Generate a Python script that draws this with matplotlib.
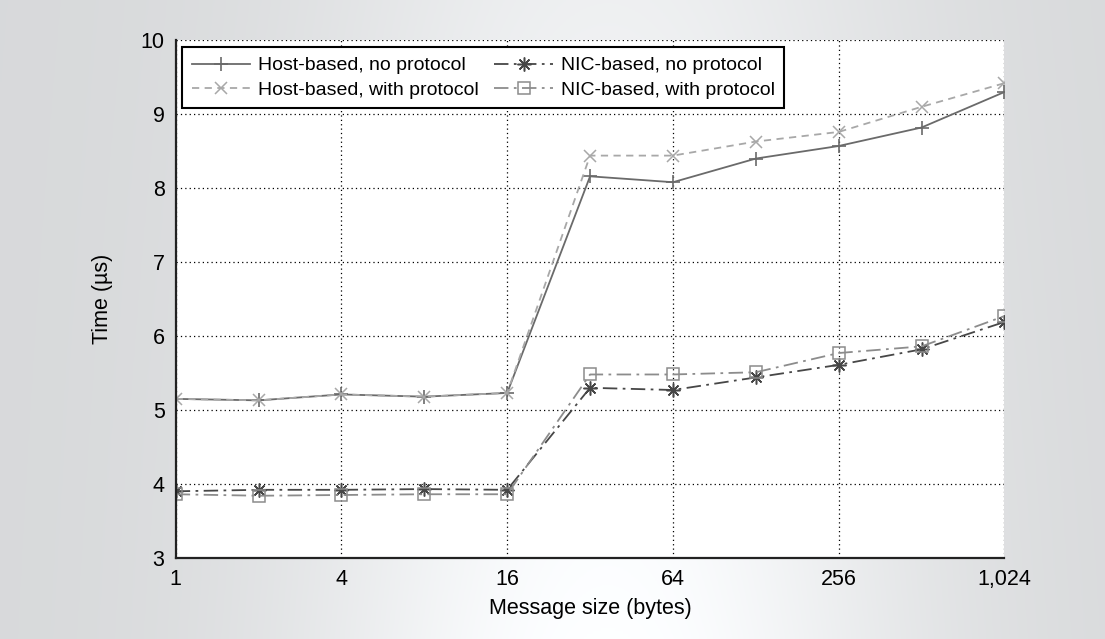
import numpy as np
import matplotlib
matplotlib.use("Agg")
import matplotlib.pyplot as plt

# ─────────────────────────────────────────────
#   DATA
# ─────────────────────────────────────────────
msg_sizes = [1, 2, 4, 8, 16, 32, 64, 128, 256, 512, 1024]

host_no_proto   = [5.15, 5.13, 5.21, 5.18, 5.23, 8.16, 8.08, 8.40, 8.57, 8.82, 9.30]
host_with_proto = [5.15, 5.13, 5.21, 5.18, 5.23, 8.44, 8.44, 8.63, 8.76, 9.10, 9.42]
nic_no_proto    = [3.90, 3.92, 3.92, 3.93, 3.92, 5.30, 5.27, 5.44, 5.61, 5.82, 6.19]
nic_with_proto  = [3.86, 3.84, 3.85, 3.86, 3.86, 5.48, 5.48, 5.51, 5.77, 5.86, 6.27]

x_ticks  = [1, 4, 16, 64, 256, 1024]
x_labels = ["1", "4", "16", "64", "256", "1,024"]
y_ticks  = [3, 4, 5, 6, 7, 8, 9, 10]

plt.rcParams["font.family"] = ["Liberation Sans", "DejaVu Sans"]

fig = plt.figure(figsize=(11.05, 6.39), dpi=100)

# ── gradient backdrop ──
bg = fig.add_axes([0, 0, 1, 1], zorder=-10)
xx = np.linspace(0, 1, 400)
yy = np.linspace(0, 1, 200)
X, Y = np.meshgrid(xx, yy)
shade = 0.845 + 0.15 * np.exp(-((X - 0.55) / 0.28) ** 2) * (0.6 + 0.4 * Y)
img = np.dstack([shade, shade + 0.006, shade + 0.012])
bg.imshow(np.clip(img, 0, 1), aspect="auto", extent=[0, 1, 0, 1])
bg.axis("off")

ax = fig.add_axes([0.159, 0.127, 0.75, 0.81])
ax.set_facecolor("white")

ax.plot(msg_sizes, host_no_proto, color="#6a6a6a", lw=1.3, ls="-",
        marker="+", ms=10, mew=1.2, label="Host-based, no protocol")
ax.plot(msg_sizes, host_with_proto, color="#a8a8a8", lw=1.3, ls=(0, (4, 3)),
        marker="x", ms=9, mew=1.1, label="Host-based, with protocol")
ax.plot(msg_sizes, nic_no_proto, color="#474747", lw=1.3, ls=(0, (8, 3, 1.5, 3)),
        marker=(8, 2, 0), ms=10, mew=1.1, label="NIC-based, no protocol")
ax.plot(msg_sizes, nic_with_proto, color="#8c8c8c", lw=1.3, ls=(0, (8, 3, 1.5, 3)),
        marker="s", ms=9, mew=1.1, mfc="none", label="NIC-based, with protocol")

ax.set_xscale("log", base=2)
ax.set_xlim(1, 1024)
ax.set_ylim(3, 10)
ax.set_xticks(x_ticks)
ax.set_xticklabels(x_labels)
ax.set_yticks(y_ticks)
ax.minorticks_off()
ax.tick_params(length=0, labelsize=15.5, pad=8)

ax.grid(True, ls=(0, (1, 2.5)), color="black", lw=0.9)
ax.spines["top"].set_visible(False)
ax.spines["right"].set_visible(False)
ax.spines["left"].set_linewidth(1.6)
ax.spines["bottom"].set_linewidth(1.6)
ax.spines["left"].set_color("#222")
ax.spines["bottom"].set_color("#222")

ax.set_xlabel("Message size (bytes)", fontsize=15.5, labelpad=6)
ax.set_ylabel("Time (µs)", fontsize=15.5, labelpad=20)

leg = ax.legend(loc="upper left", ncol=2, fontsize=14, frameon=True,
                fancybox=False, edgecolor="black", framealpha=1,
                handlelength=3.0, columnspacing=0.8, borderpad=0.5,
                labelspacing=0.35, handletextpad=0.4, borderaxespad=0,
                bbox_to_anchor=(0.008, 0.987))
leg.get_frame().set_linewidth(1.5)

plt.savefig("out.png", dpi=100)
